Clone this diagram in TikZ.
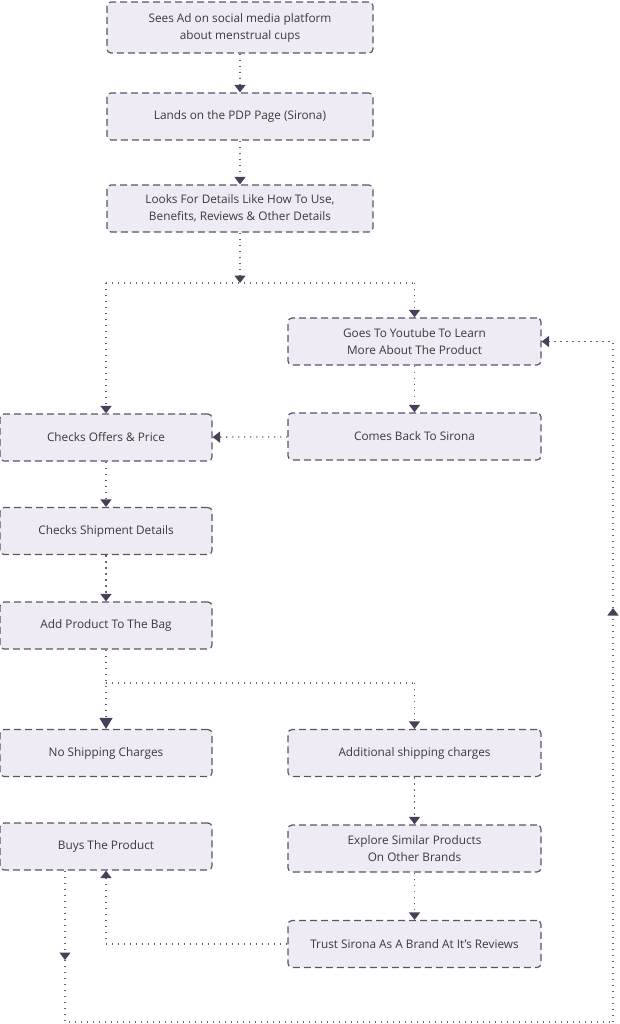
\documentclass[tikz,border=0pt]{standalone}
\usepackage{fontspec}
\setmainfont{Open Sans}
\usetikzlibrary{arrows.meta}
\definecolor{boxfill}{HTML}{EFEBF5}
\definecolor{boxline}{HTML}{5E5468}
\definecolor{linec}{HTML}{6A6274}
\definecolor{tipc}{HTML}{4A3F58}
\definecolor{txt}{HTML}{3A3A3A}
\tikzset{
  box/.style={draw=boxline, fill=boxfill, line width=1.2pt, dash pattern=on 7pt off 4pt,
    rounded corners=4pt, minimum height=47pt, align=center, text=txt,
    font=\fontsize{11.8}{17}\selectfont, inner sep=2pt},
  wbox/.style={box, minimum width=266pt},
  mbox/.style={box, minimum width=253pt},
  sbox/.style={box, minimum width=212pt},
  conn/.style={draw=linec, line width=1.3pt, dash pattern=on 1.4pt off 4.6pt},
  arr/.style={conn, -{Triangle[width=11pt,length=7.5pt,fill=tipc,color=tipc]}},
  barr/.style={conn, -{Triangle[width=13pt,length=11pt,fill=tipc,color=tipc]}},
}
\begin{document}
\begin{tikzpicture}[x=1pt,y=-1pt]
\useasboundingbox (0,0) rectangle (619,1024);
\node[wbox, minimum height=51pt] (b1) at (240,27.5) {Sees Ad on social media platform\\about menstrual cups};
\node[wbox] (b2) at (240,116.5) {Lands on the PDP Page (Sirona)};
\node[wbox] (b3) at (240,208.5) {Looks For Details Like How To Use,\\Benefits, Reviews \& Other Details};
\node[mbox] (b4) at (414.5,341.5) {Goes To Youtube To Learn\\More About The Product};
\node[mbox] (b5) at (414.5,436.5) {Comes Back To Sirona};
\node[sbox] (b6) at (106,437.5) {Checks Offers \& Price};
\node[sbox] (b7) at (106,531) {Checks Shipment Details};
\node[sbox] (b8) at (106,625.5) {Add Product To The Bag};
\node[sbox] (b9) at (106,753) {No Shipping Charges};
\node[mbox] (b10) at (414.5,753) {Additional shipping charges};
\node[sbox] (b11) at (106,846.5) {Buys The Product};
\node[mbox] (b12) at (414.5,848.5) {Explore Similar Products\\On Other Brands};
\node[mbox] (b13) at (414.5,944) {Trust Sirona As A Brand At It’s Reviews};

\coordinate (J0) at (240,283);
\coordinate (J1) at (106,283);
\coordinate (J2) at (414.5,283);
\coordinate (K1) at (106,683);
\coordinate (K2) at (414.5,683);
\coordinate (L1) at (65,960);
\coordinate (L2) at (65,1022);
\coordinate (L3) at (613,1022);
\coordinate (L4) at (613,608);
\coordinate (L5) at (613,341.5);

\draw[arr] (b1) -- (b2);
\draw[arr] (b2) -- (b3);
\draw[arr] (b3) -- (J0);
\draw[conn] (J1) -- (J2);
\draw[arr] (J1) -- (b6);
\draw[arr] (J2) -- (b4);
\draw[arr] (b4) -- (b5);
\draw[arr] (b5) -- (b6);
\draw[arr] (b6) -- (b7);
\draw[arr] (b7) -- (b8);
\draw[barr] (b8) -- (b9);
\draw[conn] (K1) -- (K2);
\draw[arr] (K2) -- (b10);
\draw[arr] (b10) -- (b12);
\draw[arr] (b12) -- (b13);
\draw[arr] (b13.west) -| (b11.south);
\draw[arr] (b11.south -| L1) -- (L1);
\draw[conn] (L1) -- (L2) -- (L3);
\draw[arr] (L3) -- (L4);
\draw[arr] (L4) -- (L5) -- (b4.east);
\end{tikzpicture}
\end{document}
